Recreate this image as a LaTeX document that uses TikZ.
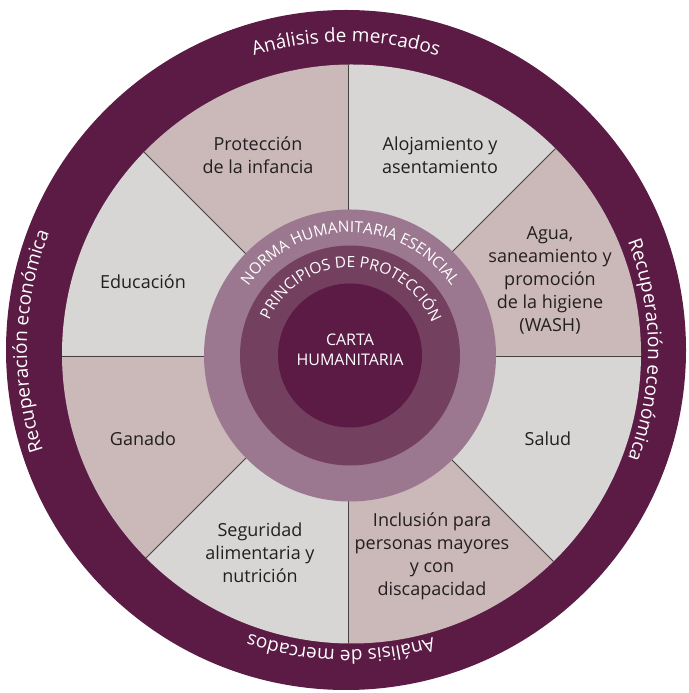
\documentclass[tikz,border=0pt]{standalone}
\usepackage{fontspec}
\setmainfont{Open Sans}
\usetikzlibrary{decorations.text}
\definecolor{ringdark}{HTML}{5B1B45}
\definecolor{ringmid}{HTML}{74405F}
\definecolor{ringlight}{HTML}{9B7890}
\definecolor{secpink}{HTML}{CBB8B8}
\definecolor{secgray}{HTML}{D7D6D5}
\definecolor{txtdark}{HTML}{231F20}
\newcommand{\ringfnt}{\color{white}\fontsize{19}{19}\selectfont}
\newcommand{\innerfnt}{\color{white}\fontsize{15.5}{15.5}\selectfont}
\begin{document}
\begin{tikzpicture}[x=1pt,y=1pt,
  sectortext/.style={align=center, text=txtdark, font=\fontsize{18}{23}\selectfont, inner sep=0pt},
  divider/.style={draw=txtdark!85, line width=0.8pt},
  ringtext/.style={decorate, decoration={text along path, text align=center, text={|\ringfnt|#1}}},
  innertext/.style={decorate, decoration={text along path, text align=center, text={|\innerfnt|#1}}}
]
\useasboundingbox (0,0) rectangle (688,693);
\fill[white] (0,0) rectangle (688,693);
\coordinate (oc) at (346,343);
\coordinate (pc) at (348,337);
\coordinate (sc) at (351.5,339);
\coordinate (ic) at (350,337.5);
% outer ring
\fill[ringdark] (oc) circle[radius=340];
% sectors
\begin{scope}
  \clip (sc) circle[radius=289.5];
  \foreach \a/\c in {0/secpink,45/secgray,90/secpink,135/secgray,180/secpink,225/secgray,270/secpink,315/secgray}{
    \fill[\c] (pc) -- ++(\a:420) arc[start angle=\a, end angle=\a+45, radius=420] -- cycle;
  }
  \foreach \a in {0,45,...,315}{
    \draw[divider] (pc) -- ++(\a:420);
  }
\end{scope}
% inner rings
\fill[ringlight] (ic) circle[radius=146];
\fill[ringmid] (ic) circle[radius=110];
\fill[ringdark] (ic) circle[radius=72];
% inner curved texts
\path[innertext={NORMA HUMANITARIA ESENCIAL}] ([shift={(175:123)}]ic) arc[start angle=175, end angle=5, radius=123];
\path[innertext={PRINCIPIOS DE PROTECCIÓN}] ([shift={(178:88)}]ic) arc[start angle=178, end angle=0, radius=88];
\node[font=\fontsize{16}{20}\selectfont, text=white, align=center, inner sep=0pt] (carta) at (350,343) {CARTA\\HUMANITARIA};
% ring texts
\path[ringtext={Análisis de mercados}] ([shift={(150:308)}]oc) arc[start angle=150, end angle=30, radius=308];
\path[ringtext={Recuperación económica}] ([shift={(60:302)}]oc) arc[start angle=60, end angle=-60, radius=302];
\path[ringtext={Análisis de mercados}] ([shift={(-31:300)}]oc) arc[start angle=-31, end angle=-151, radius=300];
\path[ringtext={Recuperación económica}] ([shift={(238.4:319)}]oc) arc[start angle=238.4, end angle=118.4, radius=319];
% sector labels
\node[sectortext] (prot) at (258,538) {Protección\\de la infancia};
\node[sectortext] (aloj) at (440,538) {Alojamiento y\\asentamiento};
\node[sectortext] (agua) at (550,413) {Agua,\\saneamiento y\\promoción\\de la higiene\\(WASH)};
\node[sectortext] (educ) at (143,411) {Educación};
\node[sectortext] (gana) at (143,254) {Ganado};
\node[sectortext] (segu) at (260,140) {Seguridad\\alimentaria y\\nutrición};
\node[sectortext] (salu) at (548,254) {Salud};
\node[sectortext] (incl) at (432,137) {Inclusión para\\personas mayores\\y con\\discapacidad};
\end{tikzpicture}
\end{document}
